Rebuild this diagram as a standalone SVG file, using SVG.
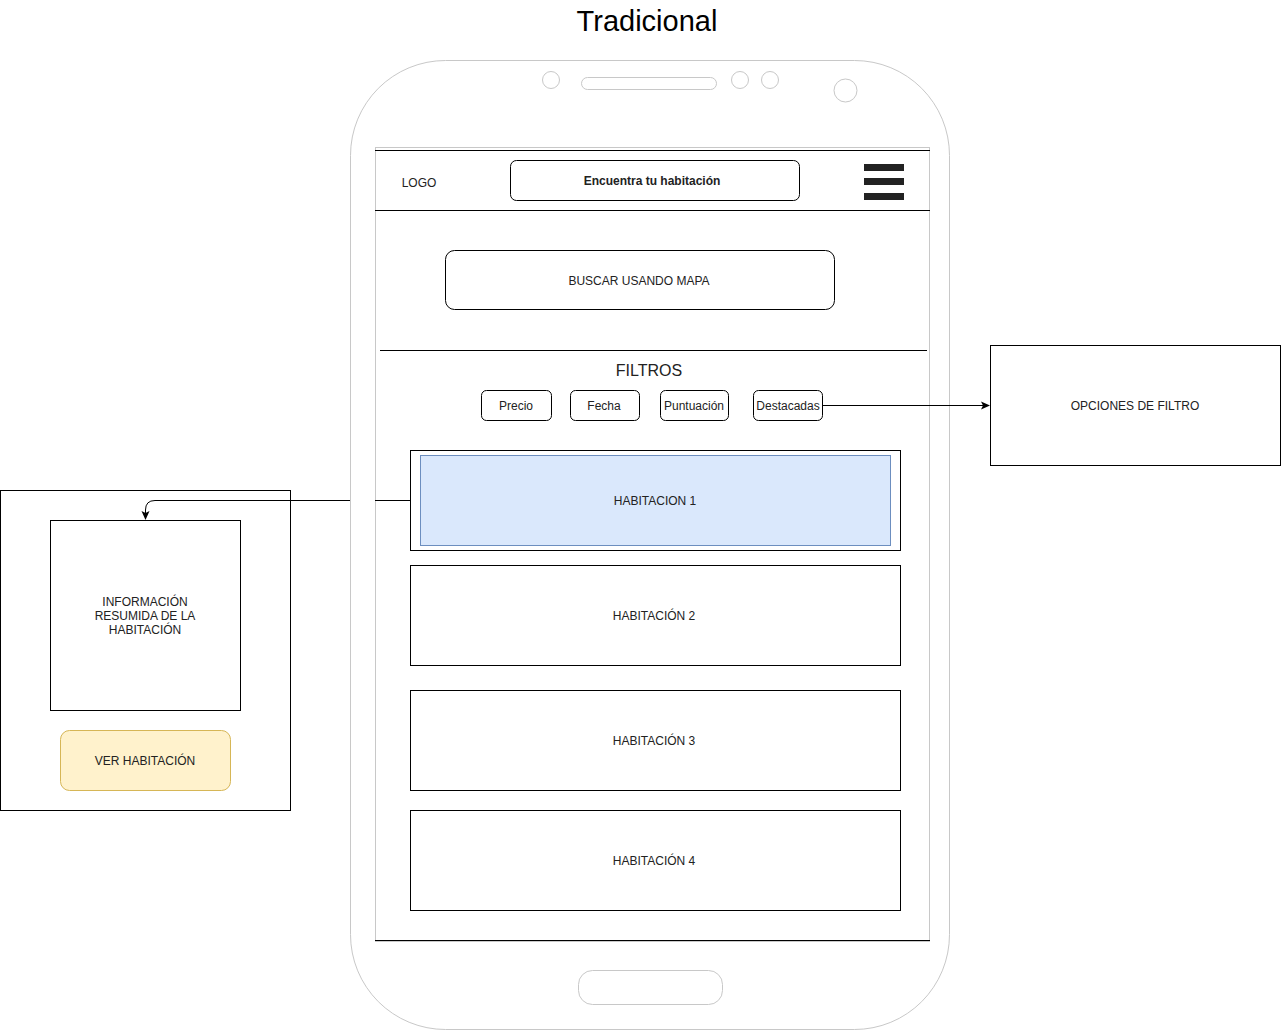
<svg xmlns="http://www.w3.org/2000/svg" width="1281" height="1031" viewBox="0 0 1281 1031">
<defs>
<style>
text{font-family:"Liberation Sans",Arial,sans-serif;font-size:12px;fill:#222;text-anchor:middle;dominant-baseline:central}
.box{fill:#fff;stroke:#000;stroke-width:1}
.gray{fill:#fff;stroke:#c8c8c8;stroke-width:1}
.line{fill:none;stroke:#000;stroke-width:1}
</style>
<marker id="arr" markerWidth="10" markerHeight="10" refX="8" refY="5" orient="auto" markerUnits="userSpaceOnUse">
<path d="M0,1 L9,5 L0,9 L2,5 Z" fill="#000"/>
</marker>
</defs>
<rect width="1281" height="1031" fill="#fff"/>
<text x="647" y="21" style="font-size:29px;fill:#000">Tradicional</text>

<g id="phone">
<rect class="gray" x="350.5" y="60.5" width="599" height="969" rx="95" ry="95"/>
<rect class="gray" x="375.5" y="147.5" width="554" height="794"/>
<rect class="gray" x="581.5" y="77.5" width="135" height="12" rx="6"/>
<circle class="gray" cx="551" cy="80" r="8.5"/>
<circle class="gray" cx="740" cy="80" r="8.5"/>
<circle class="gray" cx="770" cy="80" r="8.5"/>
<circle class="gray" cx="845.5" cy="90.5" r="11.5"/>
<rect class="gray" x="578.5" y="970.5" width="144" height="34" rx="14"/>
<line class="line" x1="375" y1="150.5" x2="930" y2="150.5"/>
<line class="line" x1="375" y1="940.5" x2="930" y2="940.5"/>
</g>

<g id="header">
<line class="line" x1="375" y1="210.5" x2="930" y2="210.5"/>
<text x="419" y="183">LOGO</text>
<rect class="box" x="510.5" y="160.5" width="289" height="40" rx="6"/>
<text x="652" y="181" style="font-weight:bold">Encuentra tu habitación</text>
<g fill="#222">
<rect x="864" y="164" width="40" height="7"/>
<rect x="864" y="178" width="40" height="7"/>
<rect x="864" y="193" width="40" height="7"/>
</g>
</g>

<g id="buscar">
<rect class="box" x="445.5" y="250.5" width="389" height="59" rx="9"/>
<text x="639" y="281">BUSCAR USANDO MAPA</text>
</g>

<g id="filtros">
<line class="line" x1="380" y1="350.5" x2="927" y2="350.5"/>
<text x="649" y="370" style="font-size:16px">FILTROS</text>
</g>
<g id="precio"><rect class="box" x="481.5" y="390.5" width="70" height="30" rx="5"/><text x="516" y="406">Precio</text></g>
<g id="fecha"><rect class="box" x="570.5" y="390.5" width="69" height="30" rx="5"/><text x="604" y="406">Fecha</text></g>
<g id="puntuacion"><rect class="box" x="660.5" y="390.5" width="68" height="30" rx="5"/><text x="694" y="406">Puntuación</text></g>
<g id="destacadas"><rect class="box" x="753.5" y="390.5" width="69" height="30" rx="5"/><text x="788" y="406">Destacadas</text></g>

<g id="opciones">
<rect class="box" x="990.5" y="345.5" width="290" height="120"/>
<text x="1135" y="406">OPCIONES DE FILTRO</text>
</g>

<g id="hab1">
<rect class="box" x="410.5" y="450.5" width="490" height="100"/>
<rect x="420.5" y="455.5" width="470" height="90" fill="#dae8fc" stroke="#6c8ebf"/>
<text x="655" y="501">HABITACION 1</text>
</g>
<g id="hab2"><rect class="box" x="410.5" y="565.5" width="490" height="100"/><text x="654" y="616">HABITACIÓN 2</text></g>
<g id="hab3"><rect class="box" x="410.5" y="690.5" width="490" height="100"/><text x="654" y="741">HABITACIÓN 3</text></g>
<g id="hab4"><rect class="box" x="410.5" y="810.5" width="490" height="100"/><text x="654" y="861">HABITACIÓN 4</text></g>

<g id="panel">
<rect class="box" x="0.5" y="490.5" width="290" height="320"/>
<rect class="box" x="50.5" y="520.5" width="190" height="190"/>
<text x="145" y="602">INFORMACIÓN</text>
<text x="145" y="616">RESUMIDA DE LA</text>
<text x="145" y="630">HABITACIÓN</text>
<rect x="60.5" y="730.5" width="170" height="60" rx="9" fill="#fff2cc" stroke="#d6b656"/>
<text x="145" y="761">VER HABITACIÓN</text>
</g>

<g id="connectors">
<line class="line" x1="822" y1="405.5" x2="989" y2="405.5" marker-end="url(#arr)"/>
<line class="line" x1="410" y1="500.5" x2="375" y2="500.5"/>
<path class="line" d="M350,500.5 L155,500.5 Q145.5,500.5 145.5,510 L145.5,519" marker-end="url(#arr)"/>
</g>
</svg>
